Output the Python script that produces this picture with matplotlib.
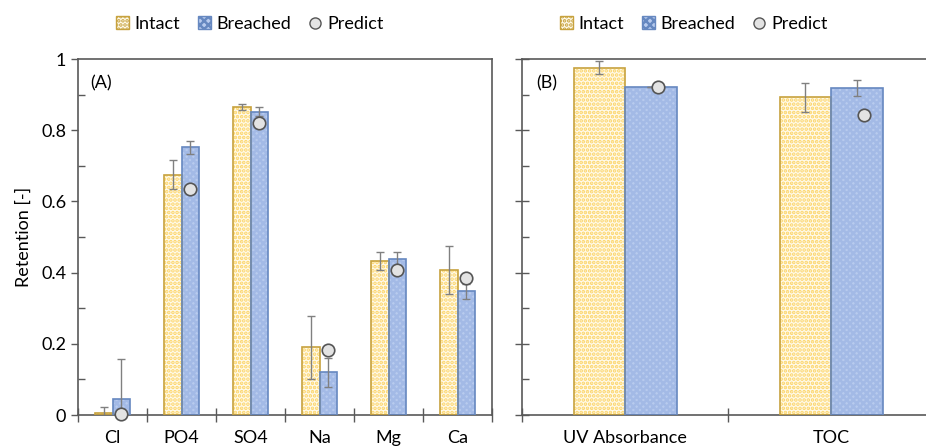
import numpy as np
import matplotlib.pyplot as plt
from matplotlib.patches import Patch
from matplotlib.lines import Line2D
from matplotlib.ticker import MultipleLocator

plt.rcParams['font.family'] = ['Lato', 'DejaVu Sans']
plt.rcParams['hatch.linewidth'] = 1.8

# panel A - ions
ions = ['Cl', 'PO4', 'SO4', 'Na', 'Mg', 'Ca']
intact_a = [0.005, 0.675, 0.865, 0.19, 0.432, 0.408]
intact_a_err = [0.018, 0.04, 0.008, 0.088, 0.025, 0.068]
breached_a = [0.045, 0.752, 0.852, 0.12, 0.438, 0.347]
breached_a_err = [0.112, 0.018, 0.012, 0.04, 0.02, 0.02]
predict_a = [0.004, 0.636, 0.82, 0.182, 0.408, 0.384]

# panel B - organics
organics = ['UV Absorbance', 'TOC']
intact_b = [0.975, 0.892]
intact_b_err = [0.018, 0.04]
breached_b = [0.922, 0.918]
breached_b_err = [0.0, 0.022]
predict_b = [0.922, 0.843]

Y_FACE, Y_HATCH, Y_EDGE = '#fffaea', '#fcd468', '#c7a23e'
B_FACE, B_HATCH, B_EDGE = '#b8cbee', '#a3bae6', '#6688c0'
GRID = '#595959'
ERR = '#808080'
FS = 13

fig = plt.figure(figsize=(9.26, 4.48), dpi=100)
axA = fig.add_axes([78/926, 33/448, 414/926, 356/448])
axB = fig.add_axes([522/926, 33/448, 412/926, 356/448])


def draw(ax, cats, intact, ierr, breached, berr, pred, pred_off):
    x = np.arange(len(cats))
    w = 0.25
    xi = x - w/2
    xb = x + w/2
    # pattern layer then outline layer
    ax.bar(xi, intact, w, color=Y_FACE, edgecolor=Y_HATCH, hatch='....', linewidth=0, zorder=2)
    ax.bar(xi, intact, w, fill=False, edgecolor=Y_EDGE, linewidth=1.2, zorder=3)
    ax.bar(xb, breached, w, color=B_FACE, edgecolor=B_HATCH, hatch='xxxxx', linewidth=0, zorder=2)
    ax.bar(xb, breached, w, fill=False, edgecolor=B_EDGE, linewidth=1.2, zorder=3)
    ax.errorbar(xi, intact, yerr=ierr, fmt='none', ecolor=ERR, elinewidth=1, capsize=3, capthick=1, zorder=4)
    ax.errorbar(xb, breached, yerr=berr, fmt='none', ecolor=ERR, elinewidth=1, capsize=3, capthick=1, zorder=4)
    ax.plot(xb + pred_off, pred, 'o', ms=9, mfc='#e3e3e3', mec='#555555', mew=1.2, ls='none', zorder=5, clip_on=False)
    ax.set_xlim(-0.5, len(cats) - 0.5)
    ax.set_ylim(0, 1)
    ax.set_xticks(np.arange(len(cats) + 1) - 0.5)
    ax.set_xticklabels([])
    ax.set_xticks(x, minor=True)
    ax.set_xticklabels(cats, minor=True, fontsize=FS)
    ax.tick_params(axis='x', which='major', direction='inout', length=10, width=1, color=GRID)
    ax.tick_params(axis='x', which='minor', length=0, pad=11)
    ax.yaxis.set_major_locator(MultipleLocator(0.2))
    ax.yaxis.set_minor_locator(MultipleLocator(0.1))
    ax.tick_params(axis='y', which='minor', direction='in', length=5, width=1, color=GRID)
    for s in ax.spines.values():
        s.set_color(GRID)
        s.set_linewidth(1.2)


draw(axA, ions, intact_a, intact_a_err, breached_a, breached_a_err, predict_a, 0.0)
draw(axB, organics, intact_b, intact_b_err, breached_b, breached_b_err, predict_b, 0.035)

axA.tick_params(axis='y', which='major', direction='out', length=5, width=1, color=GRID, labelsize=FS)
axA.set_yticks([0, 0.2, 0.4, 0.6, 0.8, 1.0])
axA.set_yticklabels(['0', '0.2', '0.4', '0.6', '0.8', '1'])
axA.set_ylabel('Retention [-]', fontsize=FS, labelpad=7)
axB.tick_params(axis='y', which='major', direction='inout', length=10, width=1, color=GRID, labelleft=False)
axB.spines['right'].set_visible(False)

axA.text(0.03, 0.955, '(A)', transform=axA.transAxes, fontsize=FS, va='top')
axB.text(0.035, 0.955, '(B)', transform=axB.transAxes, fontsize=FS, va='top')

handles = [Patch(facecolor=Y_FACE, edgecolor=Y_EDGE, hatch='....', label='Intact'),
           Patch(facecolor=B_FACE, edgecolor=B_EDGE, hatch='xxxx', label='Breached'),
           Line2D([], [], ls='none', marker='o', ms=8, mfc='#e3e3e3', mec='#555555', label='Predict')]
for cx in (250/926, 694/926):
    fig.legend(handles=handles, loc='center', bbox_to_anchor=(cx, 1 - 24/448), ncol=3, frameon=False,
               fontsize=FS, handlelength=0.7, handleheight=0.7, handletextpad=0.3, columnspacing=1.0)

fig.savefig('out.png', dpi=100)
